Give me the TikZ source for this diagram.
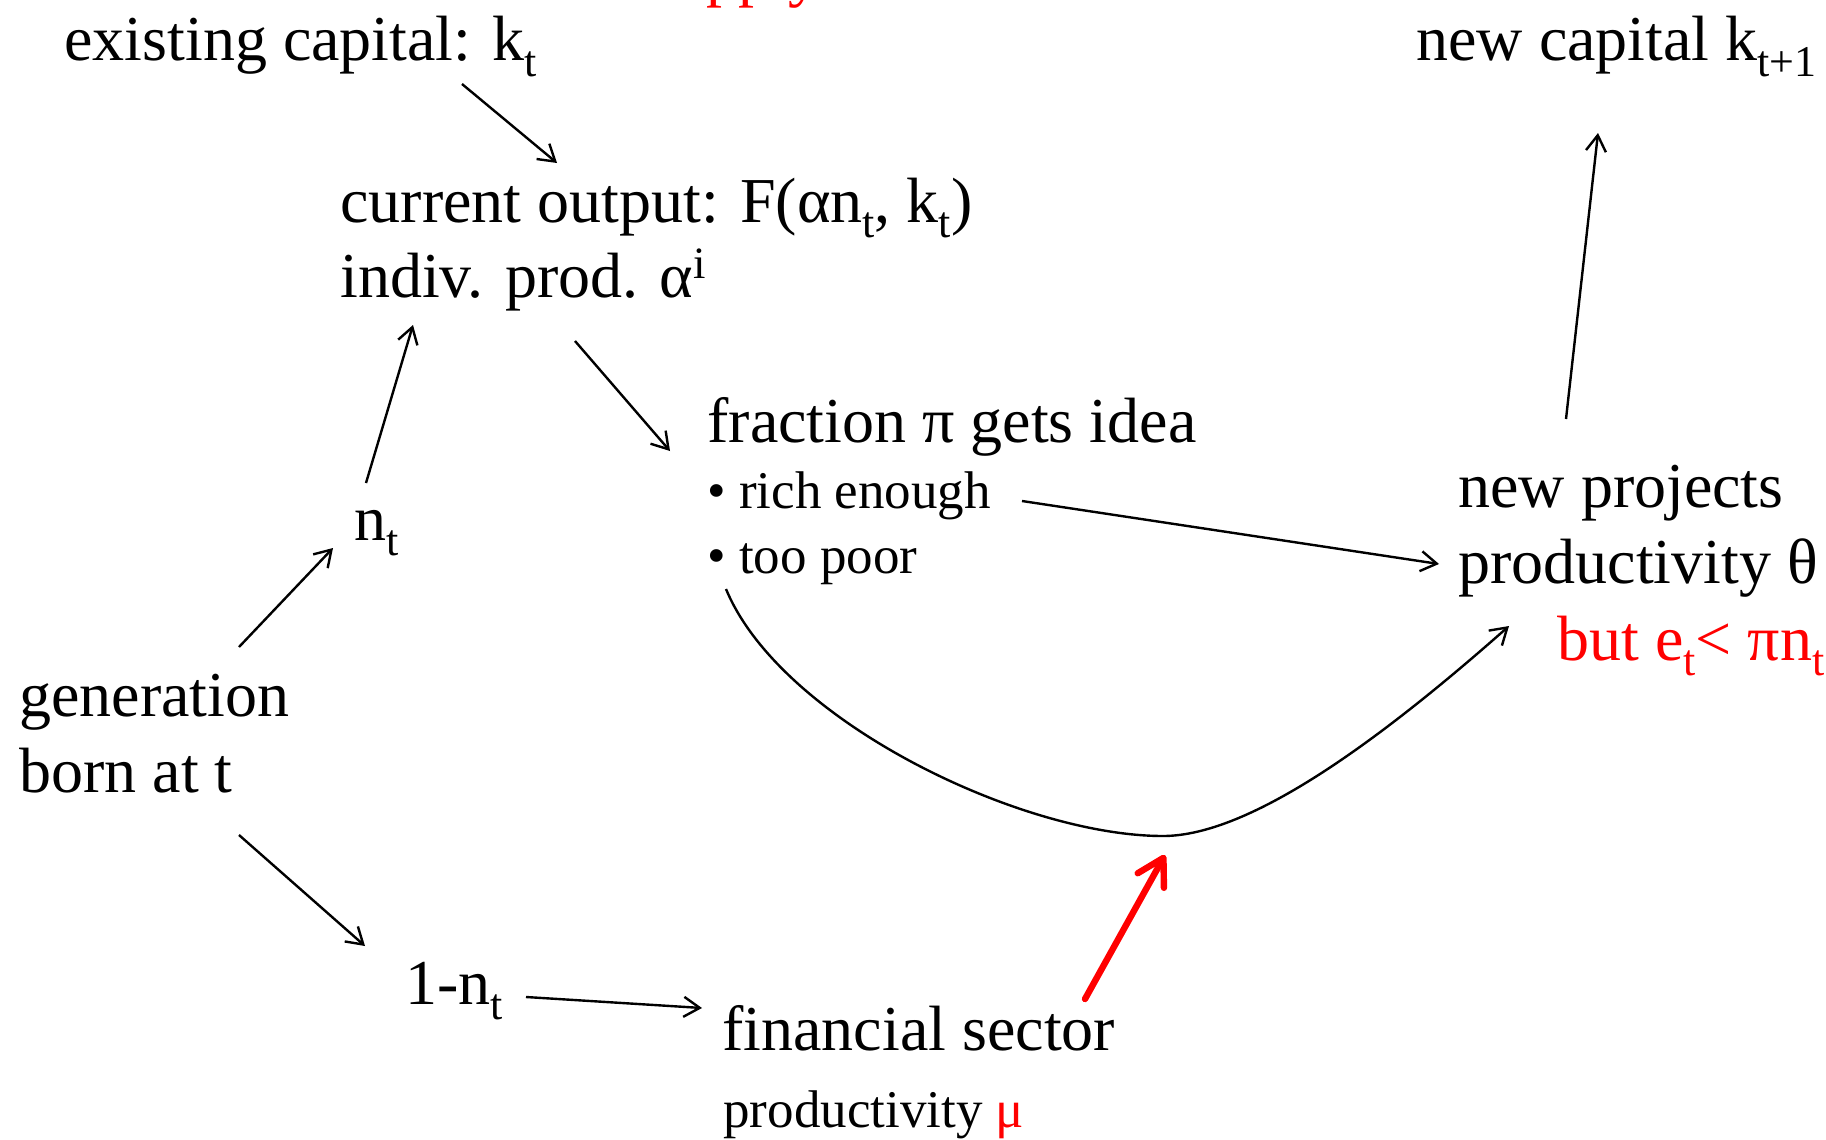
\documentclass[tikz,border=0pt]{standalone}
\usepackage{fontspec}
\setmainfont{Liberation Serif}
\usetikzlibrary{arrows.meta,calc}
\definecolor{alert}{HTML}{FF0000}
\newcommand{\sbs}[1]{\raisebox{-0.24em}{\fontsize{22}{26}\selectfont #1}}

\begin{document}
\begin{tikzpicture}[x=0.5pt,y=-0.5pt,
    txt/.style={font=\fontsize{32}{38}\selectfont,inner sep=0pt,anchor=base west},
    txtsm/.style={font=\fontsize{26.5}{32}\selectfont,inner sep=0pt,anchor=base west},
    arr/.style={-{Straight Barb[length=8pt,width=10pt]},line width=1.2pt},
    boldarr/.style={-{Straight Barb[length=13pt,width=15pt,round]},alert,line width=3.2pt,line cap=round}]
  \useasboundingbox (0,0) rectangle (1826,1140);
  % labels
  \node[txt,alert] (head) at (649,-5) {supply};
  \node[txt] (exist) at (64,61) {existing capital: k\sbs{t}};
  \node[txt] (newcap) at (1416,61) {new capital k\sbs{t+1}};
  \node[txt] (curr1) at (340,222) {current output: F(αn\sbs{t}, k\sbs{t})};
  \node[txt] (curr2) at (340,297) {indiv. prod. α\textsuperscript{i}};
  \node[txt] (frac) at (707,442) {fraction π gets idea};
  \node[txtsm] (rich) at (707,508) {• rich enough};
  \node[txtsm] (poor) at (707,573) {• too poor};
  \node[txt] (nt) at (354,540) {n\sbs{t}};
  \node[txt] (gen1) at (19,716) {generation};
  \node[txt] (gen2) at (19,792) {born at t};
  \node[txt] (onent) at (405,1004) {1-n\sbs{t}};
  \node[txt] (fin) at (722,1050) {financial sector};
  \node[txtsm] (finprod) at (723,1127) {productivity {\color{alert}μ}};
  \node[txt] (newp) at (1458,507) {new projects};
  \node[txt] (newp2) at (1458,583) {productivity θ};
  \node[txt,alert] (but) at (1557,660) {but e\sbs{t}< πn\sbs{t}};
  % arrows
  \draw[arr] ($(exist.base west)+(398,23)$) -- ($(curr1.base west)+(217,-59)$);
  \draw[arr] ($(nt.base west)+(12,-57)$) -- ($(curr2.base west)+(73,28)$);
  \draw[arr] ($(curr2.base west)+(235,44)$) -- ($(frac.base west)+(-37,9)$);
  \draw[arr] ($(gen1.base west)+(220,-69)$) -- ($(nt.base west)+(-21,8)$);
  \draw[arr] ($(gen2.base west)+(220,43)$) -- ($(onent.base west)+(-40,-58)$);
  \draw[arr] ($(onent.base west)+(121,-7)$) -- ($(fin.base west)+(-20,-42)$);
  \draw[arr] ($(rich.base west)+(315,-7)$) -- ($(newp2.base west)+(-19,-19)$);
  \draw[arr] ($(newp.base west)+(108,-88)$) -- ($(newcap.base west)+(182,72)$);
  \draw[arr] ($(poor.base west)+(19,16)$) .. controls +(54,131) and (1020,836) .. (1163,836) coordinate (dip)
    .. controls (1250,836) and (1380,740) .. ($(but.base west)+(-48,-34)$);
  \draw[boldarr] ($(fin.base west)+(363,-51)$) -- ($(dip)+(2,19)$);
\end{tikzpicture}
\end{document}
